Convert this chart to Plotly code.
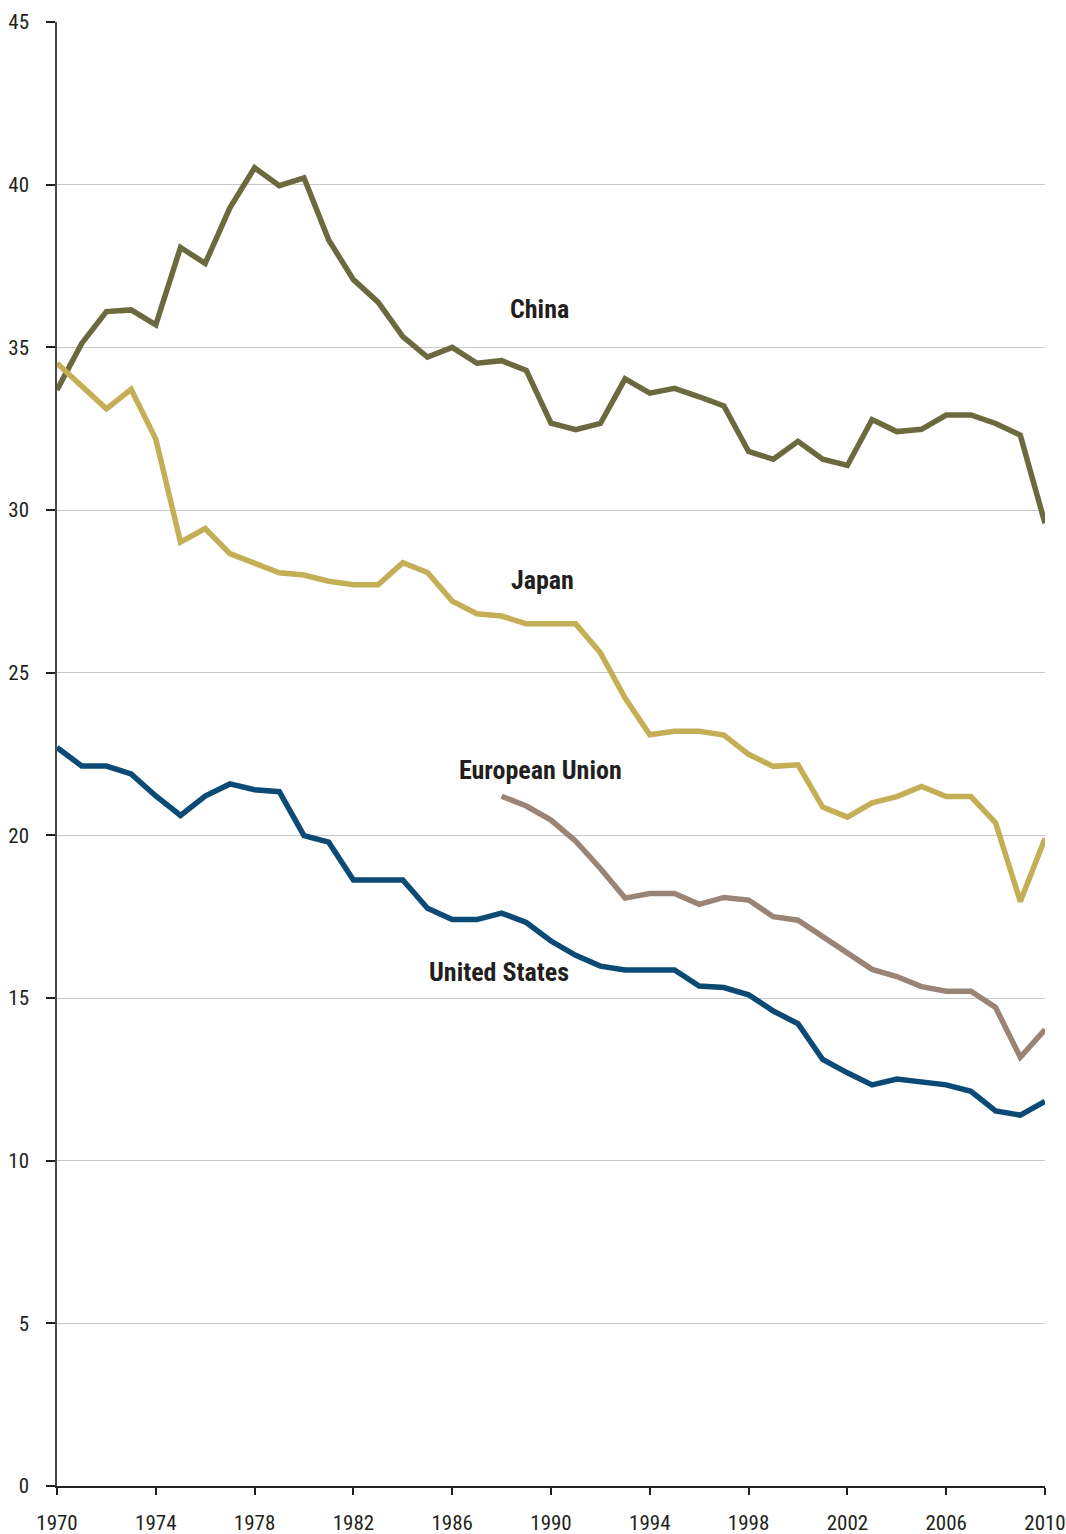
import plotly.graph_objects as go

years = list(range(1970, 2011))
eu_years = list(range(1988, 2011))

china = [33.69, 35.12, 36.10, 36.15, 35.69, 38.07, 37.58, 39.29, 40.52, 39.97,
         40.21, 38.30, 37.08, 36.39, 35.33, 34.70, 35.00, 34.51, 34.59, 34.29,
         32.67, 32.47, 32.66, 34.03, 33.59, 33.74, 33.48, 33.20, 31.80, 31.56,
         32.11, 31.56, 31.37, 32.78, 32.41, 32.48, 32.92, 32.92, 32.66, 32.30,
         29.59]

japan = [34.51, 33.83, 33.11, 33.71, 32.18, 29.01, 29.43, 28.66, 28.37, 28.07,
         28.00, 27.81, 27.70, 27.70, 28.38, 28.08, 27.20, 26.81, 26.74, 26.50,
         26.50, 26.50, 25.61, 24.22, 23.09, 23.20, 23.20, 23.08, 22.49, 22.12,
         22.17, 20.87, 20.56, 21.00, 21.19, 21.50, 21.19, 21.19, 20.38, 17.97,
         19.90]

eu = [21.20, 20.90, 20.47, 19.82, 18.98, 18.07, 18.21, 18.21, 17.88, 18.09,
      18.01, 17.50, 17.39, 16.88, 16.40, 15.88, 15.66, 15.35, 15.21, 15.21,
      14.71, 13.18, 14.03]

us = [22.70, 22.13, 22.13, 21.89, 21.21, 20.61, 21.21, 21.58, 21.40, 21.34,
      19.99, 19.79, 18.63, 18.63, 18.63, 17.76, 17.41, 17.41, 17.61, 17.32,
      16.75, 16.31, 15.98, 15.86, 15.86, 15.86, 15.37, 15.32, 15.10, 14.60,
      14.21, 13.11, 12.70, 12.33, 12.51, 12.40, 12.33, 12.13, 11.53, 11.40,
      11.82]

x_ticks = list(range(1970, 2011, 4))
y_ticks = list(range(0, 46, 5))

labels = ["China", "Japan", "European Union", "United States"]
label_x = [1989.55, 1989.65, 1989.58, 1987.9]
label_y = [36.18, 27.85, 22.0, 15.8]

colors = {"China": "#6b6a3e", "Japan": "#c4ae56", "European Union": "#9a8475",
          "United States": "#0b4a74"}

FONT = "Roboto Condensed, Open Sans Condensed, DejaVu Sans Condensed, sans-serif"
TXT = "#231f20"

fig = go.Figure()
for name, xs, ys in [("China", years, china), ("Japan", years, japan),
                     ("European Union", eu_years, eu), ("United States", years, us)]:
    fig.add_trace(go.Scatter(x=xs, y=ys, mode="lines", name=name,
                             line=dict(color=colors[name], width=5.5),
                             cliponaxis=False, hoverinfo="x+y+name"))

for t, lx, ly in zip(labels, label_x, label_y):
    fig.add_annotation(x=lx, y=ly, xref="x", yref="y", text="<b>" + t + "</b>",
                       showarrow=False, font=dict(family=FONT, size=26, color=TXT),
                       xanchor="center", yanchor="middle")

fig.update_layout(
    width=1066, height=1534,
    margin=dict(l=57, r=21, t=22, b=48, autoexpand=False),
    paper_bgcolor="white", plot_bgcolor="white",
    showlegend=False,
    font=dict(family=FONT, color=TXT),
)
fig.update_xaxes(
    range=[1970, 2010], tickvals=x_ticks, ticktext=[str(v) for v in x_ticks],
    showgrid=False, zeroline=False, showline=True, linecolor=TXT, linewidth=2,
    ticks="outside", ticklen=7, tickwidth=1.5, tickcolor=TXT,
    tickfont=dict(family=FONT, size=21, color=TXT), ticklabelstandoff=10,
    automargin=False, ticklabeloverflow="allow",
)
fig.update_yaxes(
    range=[0, 45], tickvals=y_ticks, ticktext=[str(v) for v in y_ticks],
    showgrid=True, gridcolor="#c8c8c8", gridwidth=1, zeroline=False,
    showline=True, linecolor="#4a4a4a", linewidth=1.5,
    ticks="outside", ticklen=9, tickwidth=1.5, tickcolor=TXT,
    tickfont=dict(family=FONT, size=21, color=TXT), ticklabelstandoff=13,
    automargin=False, ticklabeloverflow="allow",
)

# remove the default page margin so the 1066x1534 figure fills the window exactly
fig.write_html(
    "out.html",
    config={"displayModeBar": False},
    post_script="document.body.style.margin='0';"
                "document.documentElement.style.overflow='hidden';",
)
